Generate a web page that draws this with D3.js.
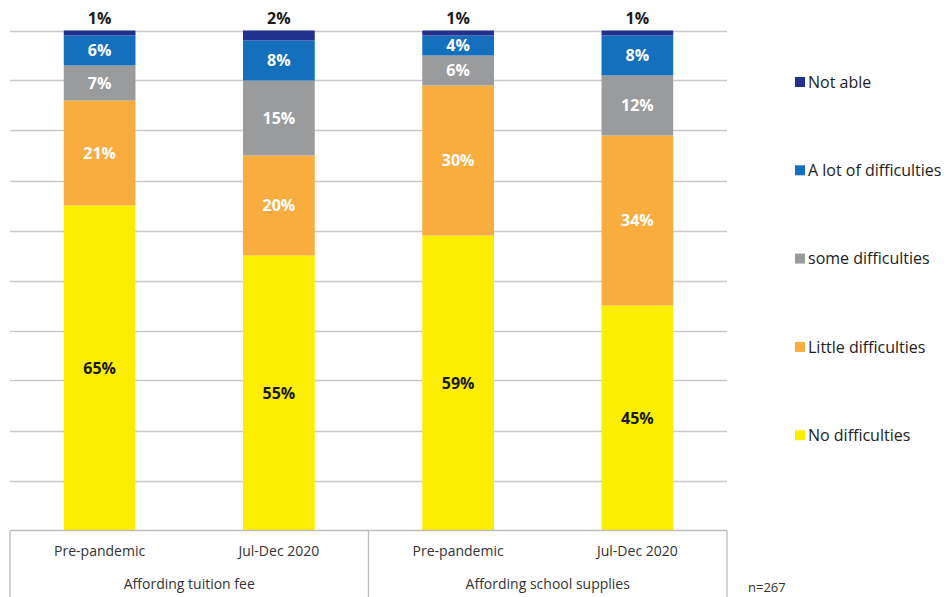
<!DOCTYPE html>
<html>
<head>
<meta charset="utf-8">
<script src="https://cdn.jsdelivr.net/npm/d3@7/dist/d3.min.js"></script>
<style>
  html, body { margin: 0; padding: 0; background: #fff; }
  svg { display: block; font-family: "Open Sans", "Noto Sans", sans-serif; }
</style>
</head>
<body>
<svg id="chart" width="944" height="597"></svg>
<script>
// Survey answers, n=267
const bars = ["Tuition / Pre-pandemic", "Tuition / Jul-Dec 2020", "Supplies / Pre-pandemic", "Supplies / Jul-Dec 2020"];
const periodLabels = ["Pre-pandemic", "Jul-Dec 2020", "Pre-pandemic", "Jul-Dec 2020"];
const groupLabels = ["Affording tuition fee", "Affording school supplies"];
const seriesNames = ["No difficulties", "Little difficulties", "some difficulties", "A lot of difficulties", "Not able"];
const noDifficulties = [65, 55, 59, 45];
const littleDifficulties = [21, 20, 30, 34];
const someDifficulties = [7, 15, 6, 12];
const aLotOfDifficulties = [6, 8, 4, 8];
const notAble = [1, 2, 1, 1];
const yTicks = [0, 10, 20, 30, 40, 50, 60, 70, 80, 90, 100];
const footnote = "n=267";

const colors = ["#fcee00", "#f9ad3f", "#9a9b9d", "#1470bd", "#22308e"];
const labelColors = ["#1a1a1a", "#ffffff", "#ffffff", "#ffffff", "#1a1a1a"];

const series = [noDifficulties, littleDifficulties, someDifficulties, aLotOfDifficulties, notAble];
const rows = bars.map((b, i) => {
  const r = { bar: b };
  seriesNames.forEach((s, k) => { r[s] = series[k][i]; });
  return r;
});
const stacked = d3.stack().keys(seriesNames)(rows);

const svg = d3.select("#chart");
const plotLeft = 10, plotRight = 727, plotTop = 30.5, plotBottom = 530.5;

const x = d3.scaleBand().domain(bars).range([plotLeft, plotRight]).paddingInner(0.6).paddingOuter(0.3);
const y = d3.scaleLinear().domain([0, 100]).range([plotBottom, plotTop]);

// horizontal gridlines
svg.append("g")
  .selectAll("line").data(yTicks.slice(1)).join("line")
  .attr("x1", plotLeft).attr("x2", plotRight)
  .attr("y1", d => Math.round(y(d)) + 0.5).attr("y2", d => Math.round(y(d)) + 0.5)
  .attr("stroke", "#c9c9c9").attr("stroke-width", 1.3);

// stacked bars
const layers = svg.append("g").selectAll("g").data(stacked).join("g")
  .attr("fill", (d, k) => colors[k]);
layers.selectAll("rect").data(d => d).join("rect")
  .attr("x", d => x(d.data.bar))
  .attr("width", x.bandwidth())
  .attr("y", d => y(d[1]))
  .attr("height", d => y(d[0]) - y(d[1]));

// value labels: inside segments, the thin top segment gets its label above the bar
const labelG = svg.append("g").attr("font-weight", 700).attr("font-size", 16).attr("text-anchor", "middle");
stacked.forEach((layer, k) => {
  layer.forEach(d => {
    const v = d[1] - d[0];
    const isTop = k === seriesNames.length - 1;
    const cy = isTop ? 18 : (y(d[0]) + y(d[1])) / 2;
    labelG.append("text")
      .attr("x", x(d.data.bar) + x.bandwidth() / 2)
      .attr("y", cy)
      .attr("dy", "0.35em")
      .attr("fill", labelColors[k])
      .text(v + "%");
  });
});

// category table under the plot
const axisG = svg.append("g").attr("stroke", "#bdbdbd").attr("stroke-width", 1.3);
axisG.append("line").attr("x1", plotLeft).attr("x2", plotRight).attr("y1", plotBottom).attr("y2", plotBottom);
const mid = (x(bars[1]) + x.bandwidth() + x(bars[2])) / 2;
[plotLeft, mid, plotRight].forEach(xx => {
  axisG.append("line").attr("x1", xx).attr("x2", xx).attr("y1", plotBottom).attr("y2", 597);
});

svg.append("g").selectAll("text").data(bars).join("text")
  .attr("x", d => x(d) + x.bandwidth() / 2)
  .attr("y", 551).attr("dy", "0.35em")
  .attr("text-anchor", "middle").attr("font-size", 14).attr("fill", "#333")
  .text((d, i) => periodLabels[i]);

const groupCenters = [(plotLeft + mid) / 2, (mid + plotRight) / 2];
svg.append("g").selectAll("text").data(groupLabels).join("text")
  .attr("x", (d, i) => groupCenters[i])
  .attr("y", 584).attr("dy", "0.35em")
  .attr("text-anchor", "middle").attr("font-size", 14).attr("fill", "#333")
  .text(d => d);

svg.append("text").attr("x", 748).attr("y", 587).attr("dy", "0.35em")
  .attr("font-size", 13).attr("fill", "#333").text(footnote);

// legend, top entry is the top of the stack
const legendOrder = seriesNames.map((s, k) => k).reverse();
const legend = svg.append("g").selectAll("g").data(legendOrder).join("g")
  .attr("transform", (k, i) => `translate(795, ${82 + i * 88.3})`);
legend.append("rect").attr("x", 0).attr("y", -5).attr("width", 10).attr("height", 10)
  .attr("fill", k => colors[k]);
legend.append("text").attr("x", 13).attr("y", 0).attr("dy", "0.35em")
  .attr("font-size", 16).attr("fill", "#222")
  .text(k => seriesNames[k]);
</script>
</body>
</html>
